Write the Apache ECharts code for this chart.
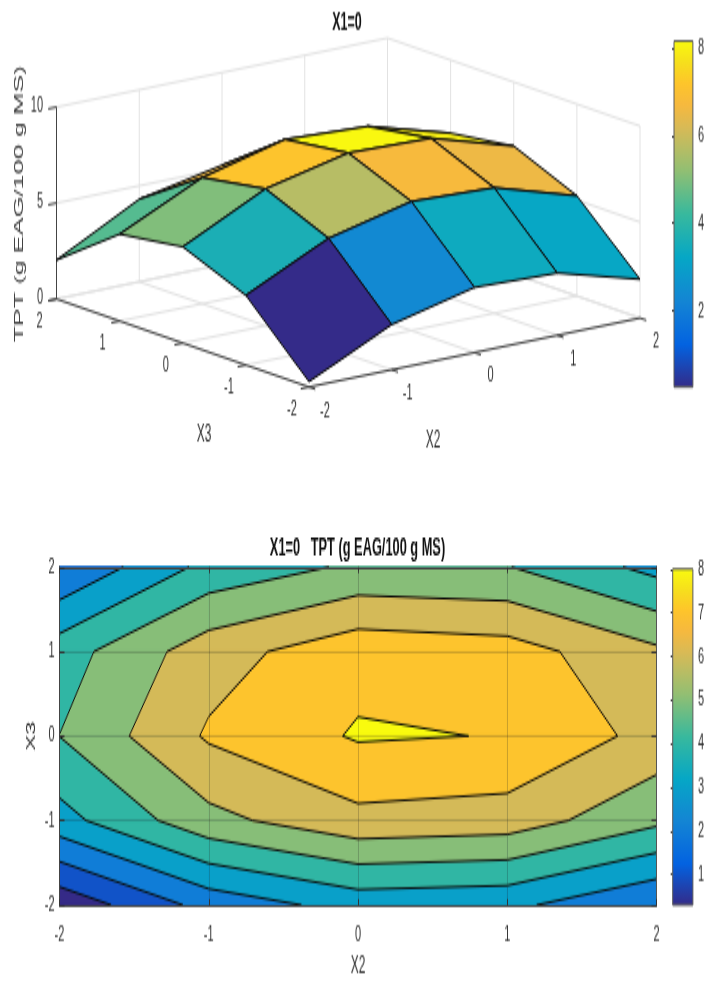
<!DOCTYPE html>
<html><head><meta charset="utf-8">
<style>
html,body{margin:0;padding:0;background:#fff}
body{width:707px;height:981px;overflow:hidden}
#c{width:707px;height:491px;transform:scaleY(1.99796);transform-origin:0 0}
</style>
<script src="https://cdn.jsdelivr.net/npm/echarts@6/dist/echarts.min.js"></script>
</head><body><div id="c"></div>
<script>
// ---- data ----
const x2Ticks = [-2, -1, 0, 1, 2];
const x3Ticks = [-2, -1, 0, 1, 2];
const zTicks = [0, 5, 10];
const tptAtX3m2 = [0.28, 2.36, 3.39, 3.24, 2.02];
const tptAtX3m1 = [3.63, 5.70, 6.72, 6.54, 5.22];
const tptAtX30  = [5.01, 7.13, 8.10, 7.965, 6.66];
const tptAtX3p1 = [4.53, 6.57, 7.66, 7.44, 6.19];
const tptAtX3p2 = [2.03, 4.30, 5.17, 5.04, 3.70];
const contourLevels = [1, 2, 3, 4, 5, 6, 7, 8];
const surfaceColorLimits = [0.26, 8.16];
const contourColorLimits = [0.3, 8];
const barTicksTop = [2, 4, 6, 8];
const barTicksBottom = [1, 2, 3, 4, 5, 6, 7, 8];
const parula = ['#352a87','#1c46b4','#0363e1','#0c74da','#1485d4','#0d96cd','#06a7c6','#1fb0b2','#38b99e','#65bc88','#92bf73','#b6bd65','#d9ba56','#f6b93f','#fec52b','#f6e01c','#f9fb0e'];

// ---- helpers ----
const S = 981 / 491;
const zRows = [tptAtX3m2, tptAtX3m1, tptAtX30, tptAtX3p1, tptAtX3p2];
const FONT = '"Liberation Sans", Arial, sans-serif';
function hex(c){return [1,3,5].map(k=>parseInt(c.substr(k,2),16));}
function colorAt(t){
  t=Math.max(0,Math.min(1,t))*(parula.length-1);
  const i=Math.min(parula.length-2,Math.floor(t)),f=t-i,a=hex(parula[i]),b=hex(parula[i+1]);
  return 'rgb('+a.map((v,k)=>Math.round(v+(b[k]-v)*f)).join(',')+')';
}
// Orthographic view of the (X2, X3, TPT) box, in the full-page layout axes
function project(x2,x3,z){
  const u=(x2+2)/4, v=(x3+2)/4, w=z/10;
  return [309+331*u-252.5*v, 387-69*u-88*v-192*w];
}
const stops=()=>parula.map((c,i)=>({offset:i/(parula.length-1),color:c}));

// ---- 3D segments ----
const wallSegs=[], axisSegs=[];
x2Ticks.forEach(t=>{wallSegs.push([t,2,0,t,2,10]);wallSegs.push([t,-2,0,t,2,0]);});
x3Ticks.forEach(t=>{wallSegs.push([2,t,0,2,t,10]);wallSegs.push([-2,t,0,2,t,0]);});
zTicks.forEach(t=>{wallSegs.push([-2,2,t,2,2,t]);wallSegs.push([2,2,t,2,-2,t]);});
axisSegs.push([-2,2,0,-2,2,10],[-2,-2,0,-2,2,0],[-2,-2,0,2,-2,0]);
zTicks.forEach(t=>axisSegs.push([-2,2,t,-2.1,2,t]));
x3Ticks.forEach(t=>axisSegs.push([-2,t,0,-2.1,t,0]));
x2Ticks.forEach(t=>axisSegs.push([t,-2,0,t,-2.1,0]));

function segItem(color,width){
  return (p,api)=>{
    const a=api.coord(project(api.value(0),api.value(1),api.value(2)));
    const b=api.coord(project(api.value(3),api.value(4),api.value(5)));
    return {type:'line',shape:{x1:a[0],y1:a[1],x2:b[0],y2:b[1]},style:{stroke:color,lineWidth:width}};
  };
}
const cells=[];
for(let j=3;j>=0;j--)for(let i=3;i>=0;i--)cells.push([i,j]);

// text labels of the 3D box
const labels3d=[];
zTicks.forEach(t=>{const p=project(-2,2,t);labels3d.push([p[0]-13.5,p[1]-1,String(t),0,11,'right']);});
x3Ticks.forEach(t=>{const p=project(-2,t,0);labels3d.push([p[0]-17,p[1]+22.5,String(t),0,11,'center']);});
x2Ticks.forEach(t=>{const p=project(t,-2,0);labels3d.push([p[0]+16,p[1]+24,String(t),0,11,'center']);});
labels3d.push([204,435,'X3',0,12,'center'],[433,440,'X2',0,12,'center'],[19,204,'TPT (g EAG/100 g MS)',1,13.4,'center']);

// ---- contour cells ----
const xs=x2Ticks, ys=x3Ticks;
const contourCells=[];
for(let j=0;j<4;j++)for(let i=0;i<4;i++)contourCells.push([i,j]);
const fillItems=[];
[-Infinity].concat(contourLevels).forEach(L=>contourCells.forEach(c=>fillItems.push([c[0],c[1],L===-Infinity?-1:L])));
const lineItems=[];
contourLevels.forEach(L=>contourCells.forEach(c=>lineItems.push([c[0],c[1],L])));
function cellEdges(i,j){
  const k=[[i,j],[i+1,j],[i+1,j+1],[i,j+1]];
  return k.map((a,n)=>{const b=k[(n+1)%4];return [xs[a[0]],ys[a[1]],zRows[a[1]][a[0]],xs[b[0]],ys[b[1]],zRows[b[1]][b[0]]];});
}
function bandColor(L){
  const lo=contourColorLimits[0], hi=contourColorLimits[1];
  return colorAt(((L<0?lo:L)-lo)/(hi-lo));
}
function renderFill(p,api){
  const i=api.value(0),j=api.value(1),L=api.value(2);
  const pts=[];
  cellEdges(i,j).forEach(e=>{
    if(L<0||e[2]>=L)pts.push([e[0],e[1]]);
    if(L>=0&&(e[2]-L)*(e[5]-L)<0){const f=(L-e[2])/(e[5]-e[2]);pts.push([e[0]+(e[3]-e[0])*f,e[1]+(e[4]-e[1])*f]);}
  });
  if(pts.length<3)return null;
  const col=bandColor(L);
  return {type:'polygon',shape:{points:pts.map(q=>api.coord(q))},style:{fill:col,stroke:col,lineWidth:0.6}};
}
function renderLine(p,api){
  const i=api.value(0),j=api.value(1),L=api.value(2);
  const pts=[];
  cellEdges(i,j).forEach(e=>{
    if((e[2]-L)*(e[5]-L)<0){const f=(L-e[2])/(e[5]-e[2]);pts.push([e[0]+(e[3]-e[0])*f,e[1]+(e[4]-e[1])*f]);}
  });
  if(pts.length<2)return null;
  return {type:'polyline',shape:{points:pts.map(q=>api.coord(q))},style:{fill:null,stroke:'#0a0a0a',lineWidth:1}};
}
function barSeries(idx,lo,hi){
  return {type:'custom',coordinateSystem:'cartesian2d',xAxisIndex:idx,yAxisIndex:idx,silent:true,z:1,data:[[0,lo,1,hi]],
    encode:{x:0,y:1},
    renderItem:(p,api)=>{
      const a=api.coord([0,hi]),b=api.coord([1,lo]);
      return {type:'rect',shape:{x:a[0],y:a[1],width:b[0]-a[0],height:b[1]-a[1]},
        style:{fill:new echarts.graphic.LinearGradient(0,1,0,0,stops()),stroke:'#5a5a5a',lineWidth:1}};
    }};
}
const tickCol='#333333';
const chart=echarts.init(document.getElementById('c'));
chart.setOption({
  animation:false,
  backgroundColor:'#fff',
  title:[
    {text:'X1=0',left:347,top:5,textAlign:'center',padding:0,textStyle:{fontFamily:FONT,fontSize:12.5,fontWeight:'bold',color:'#111'}},
    {text:'X1=0   TPT (g EAG/100 g MS)',left:357.5,top:268,textAlign:'center',padding:0,textStyle:{fontFamily:FONT,fontSize:12.8,fontWeight:'bold',color:'#111'}}
  ],
  grid:[
    {left:0,right:0,top:0,bottom:0},
    {left:59.5,width:597,top:567/S,height:338/S},
    {left:674,width:23,top:41/S,height:346/S},
    {left:672.7,width:22.3,top:569/S,height:336/S}
  ],
  xAxis:[
    {gridIndex:0,type:'value',min:0,max:707,show:false},
    {gridIndex:1,type:'value',min:-2,max:2,interval:1,position:'bottom',z:5,
      name:'X2',nameLocation:'middle',nameGap:31,nameMoveOverlap:false,nameTextStyle:{fontFamily:FONT,fontSize:12,color:tickCol,verticalAlign:'middle'},
      axisLine:{onZero:false,lineStyle:{color:'#444',width:1}},axisTick:{inside:true,length:3,lineStyle:{color:'#333'}},
      axisLabel:{fontFamily:FONT,fontSize:11,color:tickCol,margin:10,hideOverlap:false,showMinLabel:true,showMaxLabel:true},
      splitLine:{show:true,lineStyle:{color:'rgba(30,30,30,0.22)',width:1}}},
    {gridIndex:2,type:'value',min:0,max:1,show:false},
    {gridIndex:3,type:'value',min:0,max:1,show:false},
    {gridIndex:1,type:'value',min:-2,max:2,interval:1,position:'top',z:5,
      axisLine:{onZero:false,lineStyle:{color:'#444',width:1}},axisTick:{inside:true,length:3,lineStyle:{color:'#333'}},
      axisLabel:{show:false},splitLine:{show:false}}
  ],
  yAxis:[
    {gridIndex:0,type:'value',min:0,max:981,inverse:true,show:false},
    {gridIndex:1,type:'value',min:-2,max:2,interval:1,position:'left',z:5,
      name:'X3',nameLocation:'middle',nameGap:27.5,nameMoveOverlap:false,nameTextStyle:{fontFamily:FONT,fontSize:12,color:tickCol,verticalAlign:'middle'},
      axisLine:{onZero:false,lineStyle:{color:'#444',width:1}},axisTick:{inside:true,length:5,lineStyle:{color:'#333'}},
      axisLabel:{fontFamily:FONT,fontSize:11,color:tickCol,margin:5,padding:[3,0,0,0],showMinLabel:true,showMaxLabel:true},
      splitLine:{show:true,lineStyle:{color:'rgba(30,30,30,0.22)',width:1}}},
    {gridIndex:2,type:'value',min:surfaceColorLimits[0],max:surfaceColorLimits[1],position:'right',
      axisLine:{show:false},axisTick:{show:true,inside:true,length:2,customValues:barTicksTop,lineStyle:{color:'#333'}},
      axisLabel:{fontFamily:FONT,fontSize:11,color:tickCol,margin:5,customValues:barTicksTop},splitLine:{show:false}},
    {gridIndex:3,type:'value',min:contourColorLimits[0],max:contourColorLimits[1],position:'right',
      axisLine:{show:false},axisTick:{show:true,inside:true,length:2,customValues:barTicksBottom,lineStyle:{color:'#333'}},
      axisLabel:{fontFamily:FONT,fontSize:11,color:tickCol,margin:5,customValues:barTicksBottom},splitLine:{show:false}},
    {gridIndex:1,type:'value',min:-2,max:2,interval:1,position:'right',z:5,
      axisLine:{onZero:false,lineStyle:{color:'#555',width:1}},axisTick:{inside:true,length:5,lineStyle:{color:'#333'}},
      axisLabel:{show:false},splitLine:{show:false}}
  ],
  series:[
    {type:'custom',coordinateSystem:'cartesian2d',xAxisIndex:0,yAxisIndex:0,silent:true,z:1,data:wallSegs,encode:{x:0,y:1},
      renderItem:segItem('#e2e2e2',1)},
    {type:'custom',coordinateSystem:'cartesian2d',xAxisIndex:0,yAxisIndex:0,silent:true,z:2,data:axisSegs,encode:{x:0,y:1},
      renderItem:segItem('#444444',1)},
    {type:'custom',coordinateSystem:'cartesian2d',xAxisIndex:0,yAxisIndex:0,silent:true,z:3,data:cells,encode:{x:0,y:1},
      renderItem:(p,api)=>{
        const i=api.value(0),j=api.value(1);
        const corners=[[i,j],[i+1,j],[i+1,j+1],[i,j+1]];
        const pts=corners.map(c=>api.coord(project(x2Ticks[c[0]],x3Ticks[c[1]],zRows[c[1]][c[0]])));
        const t=(zRows[j][i]-surfaceColorLimits[0])/(surfaceColorLimits[1]-surfaceColorLimits[0]);
        return {type:'polygon',shape:{points:pts},style:{fill:colorAt(t),stroke:'#0a0a0a',lineWidth:1,lineJoin:'round'}};
      }},
    {type:'custom',coordinateSystem:'cartesian2d',xAxisIndex:0,yAxisIndex:0,silent:true,z:4,data:labels3d.map((l,k)=>[l[0],l[1],k]),encode:{x:0,y:1},
      renderItem:(p,api)=>{
        const l=labels3d[api.value(2)];
        const q=api.coord([l[0],l[1]]);
        return {type:'text',x:q[0],y:q[1],rotation:l[3]?Math.PI/2:0,
          style:{text:l[2],fill:l[3]?'#404040':tickCol,font:l[4]+'px '+FONT,align:l[5],verticalAlign:'middle'}};
      }},
    {type:'custom',coordinateSystem:'cartesian2d',xAxisIndex:1,yAxisIndex:1,silent:true,z:2,data:fillItems,encode:{x:0,y:1},renderItem:renderFill},
    {type:'custom',coordinateSystem:'cartesian2d',xAxisIndex:1,yAxisIndex:1,silent:true,z:3,data:lineItems,encode:{x:0,y:1},renderItem:renderLine},
    barSeries(2,surfaceColorLimits[0],surfaceColorLimits[1]),
    barSeries(3,contourColorLimits[0],contourColorLimits[1])
  ]
});
</script></body></html>
